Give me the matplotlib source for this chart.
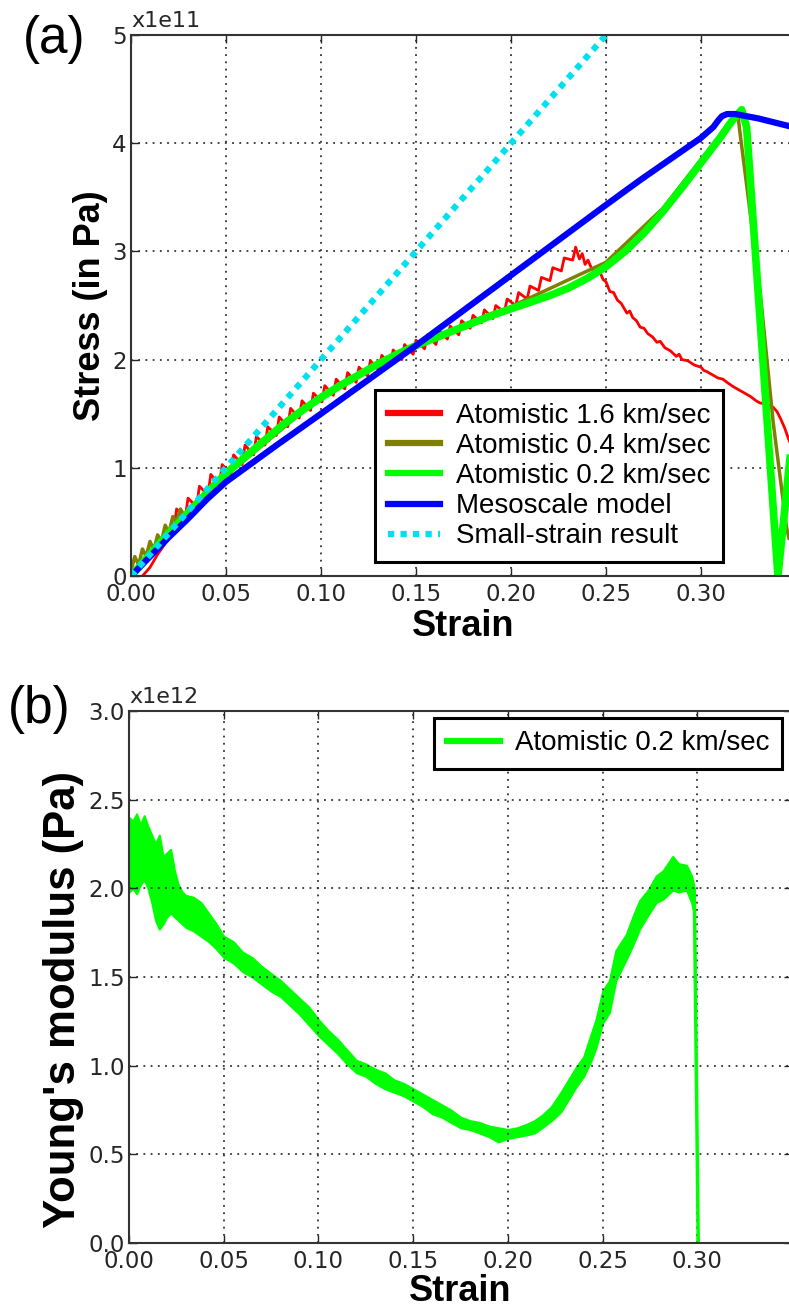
import matplotlib
matplotlib.use("Agg")
import matplotlib.pyplot as plt
from matplotlib.lines import Line2D

# ---- panel (a): stress vs strain, stress in units of 1e11 Pa ----
cyan_strain = [0.0, 0.25]
cyan_stress = [0.0, 5.0]

blue_strain = [0.0, 0.01, 0.02, 0.03, 0.04, 0.05, 0.0767, 0.10, 0.15, 0.20, 0.25,
               0.268, 0.30, 0.3065, 0.309, 0.311, 0.3137, 0.318, 0.33, 0.346, 0.35]
blue_stress = [0.0, 0.18, 0.36, 0.53, 0.71, 0.87, 1.21, 1.50, 2.13, 2.78, 3.43,
               3.66, 4.05, 4.15, 4.21, 4.25, 4.27, 4.27, 4.23, 4.16, 4.14]

green_strain = [0.0, 0.01, 0.02, 0.03, 0.04, 0.05, 0.06, 0.07, 0.08, 0.09, 0.10,
                0.11, 0.12, 0.13, 0.14, 0.15, 0.16, 0.17, 0.18, 0.19, 0.20, 0.21,
                0.22, 0.23, 0.24, 0.25, 0.26, 0.27, 0.28, 0.29, 0.30, 0.31, 0.316,
                0.3214, 0.324, 0.3405, 0.3463, 0.35]
green_stress = [0.0, 0.20, 0.40, 0.58, 0.77, 0.95, 1.10, 1.25, 1.40, 1.53, 1.65,
                1.76, 1.86, 1.96, 2.05, 2.13, 2.20, 2.27, 2.34, 2.41, 2.47, 2.53,
                2.59, 2.66, 2.75, 2.86, 3.00, 3.17, 3.37, 3.59, 3.82, 4.05, 4.20,
                4.31, 4.15, 0.0, 1.0, 1.6]

olive_strain = [0.0, 0.002, 0.004, 0.006, 0.008, 0.010, 0.012, 0.014, 0.016, 0.018,
                0.020, 0.022, 0.024, 0.026, 0.028, 0.030, 0.040, 0.10, 0.15, 0.20,
                0.25, 0.28, 0.30, 0.31, 0.3195, 0.3205, 0.331, 0.338, 0.345, 0.3463]
olive_stress = [0.05, 0.18, 0.10, 0.25, 0.18, 0.32, 0.24, 0.38, 0.32, 0.47,
                0.40, 0.55, 0.50, 0.62, 0.56, 0.62, 0.78, 1.66, 2.14, 2.49,
                2.90, 3.40, 3.85, 4.07, 4.25, 4.10, 2.65, 1.42, 0.45, 0.35]

red_strain = [0.006, 0.010, 0.014, 0.018,
              0.0225, 0.024, 0.0285, 0.030, 0.0345, 0.036, 0.0405, 0.042,
              0.0465, 0.048, 0.0525, 0.054, 0.0585, 0.060, 0.0645, 0.066,
              0.0705, 0.072, 0.0765, 0.078, 0.0825, 0.084, 0.0885, 0.090,
              0.0945, 0.096, 0.1005, 0.102, 0.1065, 0.108, 0.1125, 0.114,
              0.1185, 0.120, 0.1245, 0.126, 0.1305, 0.132, 0.1365, 0.138,
              0.1425, 0.144, 0.1485, 0.150, 0.1545, 0.156, 0.1605, 0.162,
              0.1665, 0.168, 0.1725, 0.174, 0.1785, 0.180, 0.1845, 0.186,
              0.1905, 0.192, 0.1965, 0.198, 0.2025, 0.204, 0.2085, 0.210,
              0.2145, 0.216, 0.2205, 0.222, 0.2265, 0.228, 0.2325, 0.234,
              0.236, 0.2375, 0.239, 0.2405, 0.2425, 0.245, 0.2465, 0.2485,
              0.250, 0.252, 0.254, 0.256, 0.258, 0.261, 0.2625, 0.264, 0.266,
              0.268, 0.270, 0.272, 0.2745, 0.2768, 0.2785, 0.281, 0.284, 0.287,
              0.2885, 0.290, 0.293, 0.2965, 0.300, 0.3015, 0.303, 0.306, 0.309,
              0.3115, 0.3137, 0.317, 0.320, 0.323, 0.326, 0.329, 0.331, 0.334,
              0.338, 0.340, 0.342, 0.344, 0.346, 0.350]
red_stress = [0.0, 0.08, 0.20, 0.30,
              0.42, 0.62, 0.53, 0.72, 0.64, 0.83, 0.75, 0.94,
              0.84, 1.03, 0.94, 1.12, 1.03, 1.21, 1.12, 1.29,
              1.21, 1.38, 1.30, 1.47, 1.38, 1.55, 1.46, 1.62,
              1.53, 1.69, 1.61, 1.76, 1.67, 1.82, 1.73, 1.88,
              1.79, 1.93, 1.85, 1.99, 1.90, 2.04, 1.95, 2.09,
              2.00, 2.14, 2.05, 2.18, 2.10, 2.23, 2.14, 2.27,
              2.19, 2.31, 2.23, 2.36, 2.29, 2.41, 2.34, 2.46,
              2.38, 2.50, 2.44, 2.56, 2.50, 2.62, 2.56, 2.68,
              2.64, 2.76, 2.73, 2.85, 2.82, 2.94, 2.92, 3.04,
              2.93, 2.98, 2.88, 2.92, 2.84, 2.80, 2.82, 2.74,
              2.72, 2.63, 2.62, 2.55, 2.52, 2.43, 2.45, 2.39, 2.36,
              2.30, 2.29, 2.24, 2.21, 2.16, 2.17, 2.11, 2.08, 2.03,
              2.05, 2.00, 1.99, 1.95, 1.93, 1.90, 1.89, 1.86, 1.83,
              1.82, 1.79, 1.75, 1.72, 1.69, 1.66, 1.62, 1.60, 1.59,
              1.56, 1.52, 1.45, 1.37, 1.27, 1.10]

# ---- panel (b): Young's modulus (units of 1e12 Pa), noisy band edges ----
mod_strain = [0.000, 0.002, 0.004, 0.006, 0.008, 0.010, 0.012, 0.014, 0.016, 0.018,
              0.020, 0.022, 0.024, 0.026, 0.028, 0.030, 0.034, 0.038, 0.042, 0.046,
              0.050, 0.055, 0.060, 0.065, 0.070, 0.075, 0.080, 0.085, 0.090, 0.095,
              0.100, 0.105, 0.110, 0.115, 0.120, 0.125, 0.130, 0.135, 0.140, 0.145,
              0.150, 0.155, 0.160, 0.165, 0.170, 0.175, 0.180, 0.185, 0.190, 0.195,
              0.200, 0.205, 0.210, 0.214, 0.218, 0.223, 0.228, 0.232, 0.236, 0.240,
              0.244, 0.2465, 0.250, 0.2536, 0.257, 0.2625, 0.266, 0.2695, 0.274,
              0.2783, 0.282, 0.287, 0.290, 0.2943, 0.297, 0.2985]
mod_low = [1.98, 2.00, 1.97, 2.02, 2.05, 2.00, 1.92, 1.82, 1.77, 1.80,
           1.84, 1.86, 1.84, 1.82, 1.80, 1.78, 1.76, 1.73, 1.70, 1.66,
           1.61, 1.58, 1.53, 1.50, 1.46, 1.42, 1.39, 1.34, 1.29, 1.23,
           1.17, 1.12, 1.07, 1.01, 0.96, 0.94, 0.90, 0.87, 0.85, 0.83,
           0.80, 0.77, 0.73, 0.71, 0.68, 0.65, 0.64, 0.62, 0.60, 0.57,
           0.59, 0.60, 0.61, 0.62, 0.65, 0.69, 0.74, 0.81, 0.88, 0.94,
           1.03, 1.10, 1.24, 1.30, 1.48, 1.60, 1.68, 1.77, 1.85,
           1.92, 1.94, 1.99, 1.98, 1.99, 1.92, 1.85]
mod_high = [2.40, 2.38, 2.42, 2.36, 2.41, 2.35, 2.30, 2.25, 2.30, 2.18,
            2.20, 2.22, 2.10, 2.02, 1.98, 1.96, 1.95, 1.92, 1.86, 1.80,
            1.73, 1.70, 1.64, 1.61, 1.56, 1.52, 1.48, 1.43, 1.38, 1.33,
            1.26, 1.20, 1.15, 1.09, 1.03, 1.01, 0.98, 0.96, 0.92, 0.90,
            0.87, 0.84, 0.81, 0.78, 0.75, 0.71, 0.69, 0.68, 0.66, 0.65,
            0.64, 0.65, 0.67, 0.69, 0.72, 0.77, 0.85, 0.92, 0.99, 1.05,
            1.18, 1.26, 1.42, 1.48, 1.65, 1.74, 1.84, 1.93, 1.99,
            2.07, 2.10, 2.18, 2.14, 2.13, 2.07, 2.00]
drop_strain = [0.2985, 0.3005]
drop_mod = [1.92, 0.0]

ticks_x = [0.0, 0.05, 0.10, 0.15, 0.20, 0.25, 0.30]
ticks_x_text = ["0.00", "0.05", "0.10", "0.15", "0.20", "0.25", "0.30"]
ticks_a = [0, 1, 2, 3, 4, 5]
ticks_b = [0.0, 0.5, 1.0, 1.5, 2.0, 2.5, 3.0]
ticks_b_text = ["0.0", "0.5", "1.0", "1.5", "2.0", "2.5", "3.0"]

sans = ["Liberation Sans", "DejaVu Sans"]
tick_col = "#262626"

fig = plt.figure(figsize=(7.89, 13.08), dpi=100)
ax1 = fig.add_axes([131 / 789, 0.5596, 665 / 789, 0.4136])
ax2 = fig.add_axes([129 / 789, 0.0497, 663 / 789, 0.4067])


def style_axes(ax):
    ax.tick_params(direction="in", top=True, right=True, length=6, width=1,
                   colors=tick_col, labelsize=16.5)
    ax.tick_params(axis="x", pad=5)
    ax.tick_params(axis="y", pad=3)
    ax.grid(True, color="#333333", linestyle=(0, (1, 3)), linewidth=1.3)
    for sp in ax.spines.values():
        sp.set_color("#333333")
        sp.set_linewidth(1.5)


# (a)
ax1.plot(red_strain, red_stress, color="#ff0000", lw=2, label="Atomistic 1.6 km/sec")
ax1.plot(olive_strain, olive_stress, color="#808000", lw=2.5, label="Atomistic 0.4 km/sec")
ax1.plot(green_strain, green_stress, color="#00ff00", lw=5.5, label="Atomistic 0.2 km/sec")
ax1.plot(blue_strain, blue_stress, color="#0000ff", lw=4.5, label="Mesoscale model")
ax1.plot(cyan_strain, cyan_stress, color="#00e1f0", lw=4.5, linestyle=(0, (1, 1)),
         label="Small-strain result")
ax1.set_xlim(0, 0.35)
ax1.set_ylim(0, 5)
ax1.set_xticks(ticks_x)
ax1.set_xticklabels(ticks_x_text)
ax1.set_yticks(ticks_a)
style_axes(ax1)
ax1.text(0.0, 1.008, "x1e11", transform=ax1.transAxes, fontsize=16,
         color=tick_col, va="bottom", ha="left")
ax1.set_xlabel("Strain", fontsize=26, fontweight="bold", family=sans)
ax1.set_ylabel("Stress (in Pa)", fontsize=26, fontweight="bold", family=sans)
ax1.xaxis.set_label_coords(0.5, -0.06)
ax1.yaxis.set_label_coords(-0.035, 0.5)
leg1 = ax1.legend(loc="lower left", bbox_to_anchor=(0.367, 0.026), borderaxespad=0,
                  prop={"family": sans, "size": 20}, handlelength=1.9,
                  handletextpad=0.55, labelspacing=0.15, borderpad=0.45,
                  fancybox=False, framealpha=1, edgecolor="black")
leg1.get_frame().set_linewidth(2.2)
for ln in leg1.get_lines():
    ln.set_linewidth(4.5)

# (b)
ax2.fill_between(mod_strain, mod_low, mod_high, color="#00ff00", lw=1.5,
                 edgecolor="#00ff00")
ax2.plot(drop_strain, drop_mod, color="#00ff00", lw=2.5)
ax2.set_xlim(0, 0.35)
ax2.set_ylim(0, 3.0)
ax2.set_xticks(ticks_x)
ax2.set_xticklabels(ticks_x_text)
ax2.set_yticks(ticks_b)
ax2.set_yticklabels(ticks_b_text)
style_axes(ax2)
ax2.text(0.0, 1.008, "x1e12", transform=ax2.transAxes, fontsize=16,
         color=tick_col, va="bottom", ha="left")
ax2.set_xlabel("Strain", fontsize=26, fontweight="bold", family=sans)
ax2.set_ylabel("Young's modulus (Pa)", fontsize=31.5, fontweight="bold", family=sans)
ax2.xaxis.set_label_coords(0.5, -0.058)
ax2.yaxis.set_label_coords(-0.068, 0.457)
proxy = Line2D([], [], color="#00ff00", lw=4.5)
leg2 = ax2.legend([proxy], ["Atomistic 0.2 km/sec"], loc="upper right",
                  bbox_to_anchor=(0.985, 0.987), borderaxespad=0,
                  prop={"family": sans, "size": 20}, handlelength=1.9,
                  handletextpad=0.55, borderpad=0.45, fancybox=False,
                  framealpha=1, edgecolor="black")
leg2.get_frame().set_linewidth(2.2)

fig.text(23 / 789, 1 - 15 / 1308, "(a)", fontsize=37, family=sans, va="top", ha="left")
fig.text(8 / 789, 1 - 685 / 1308, "(b)", fontsize=37, family=sans, va="top", ha="left")

fig.savefig("out.png", dpi=100)
